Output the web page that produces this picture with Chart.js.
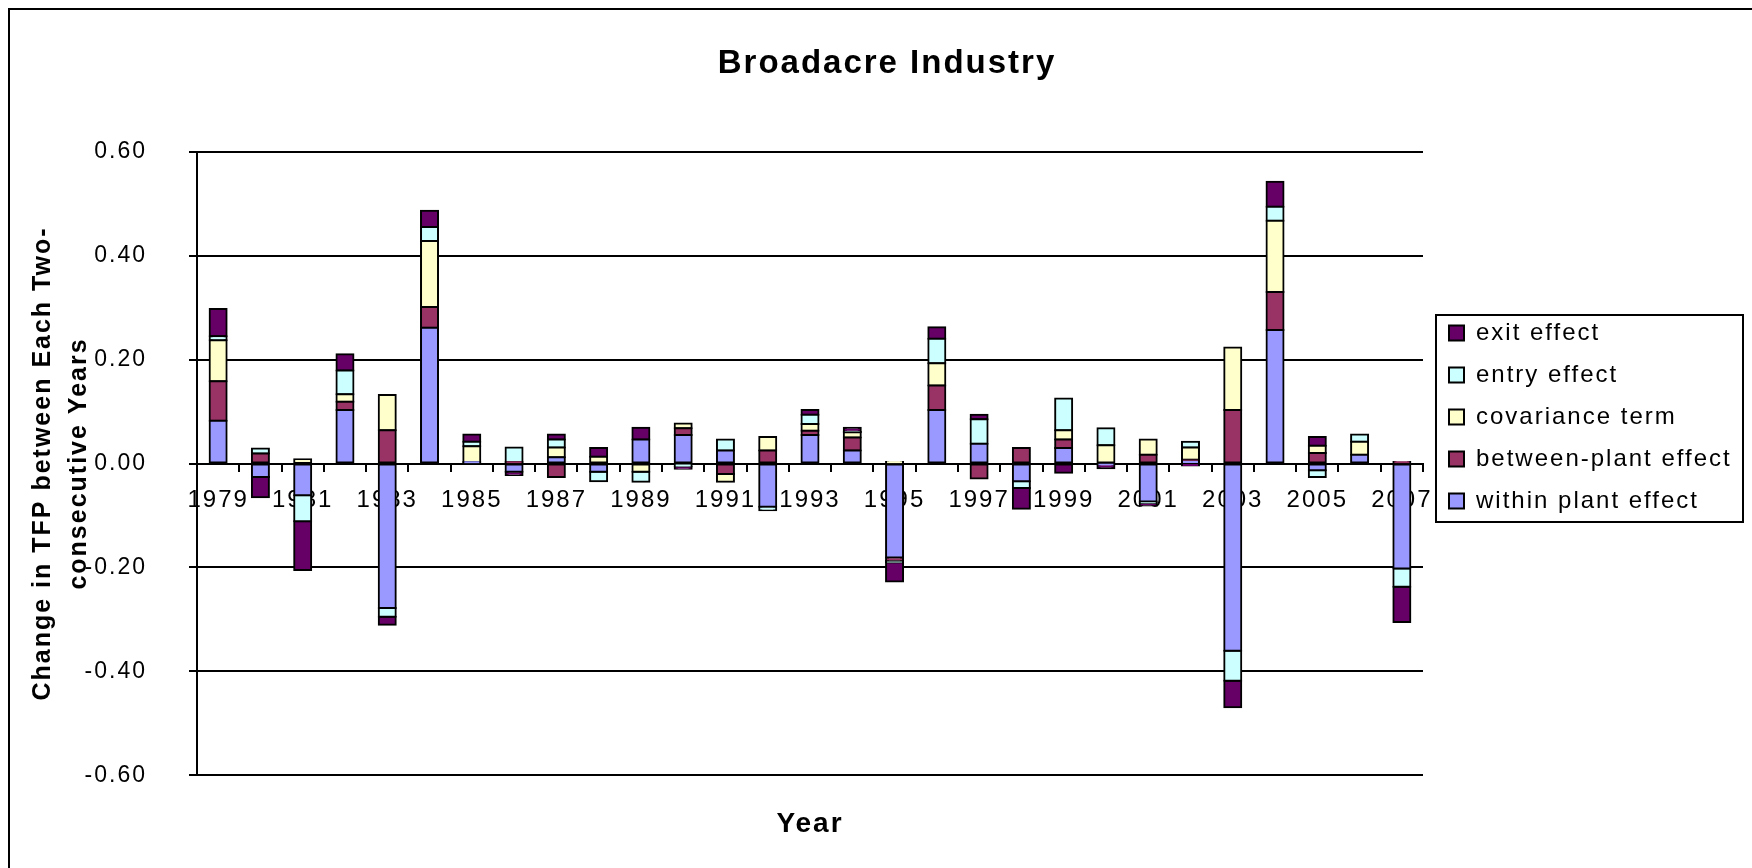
<!DOCTYPE html>
<html>
<head>
<meta charset="utf-8">
<title>Broadacre Industry</title>
<script src="https://cdn.jsdelivr.net/npm/chart.js@4.4.1/dist/chart.umd.min.js"></script>
<style>
    html, body { margin: 0; padding: 0; background: #fff; overflow: hidden; }
    #wrap { position: relative; width: 1752px; height: 868px; }
</style>
</head>
<body>
<div id="wrap"><canvas id="tfpChart"></canvas></div>
<script>
// Decomposition of the year-on-year TFP change, 1979-2007
const years = [1979, 1980, 1981, 1982, 1983, 1984, 1985, 1986, 1987, 1988,
    1989, 1990, 1991, 1992, 1993, 1994, 1995, 1996, 1997, 1998,
    1999, 2000, 2001, 2002, 2003, 2004, 2005, 2006, 2007];

const withinPlant = [0.082, -0.026, -0.061, 0.103, -0.278, 0.261, 0.003, -0.016, 0.012, -0.016,
    0.046, 0.055, 0.025, -0.083, 0.055, 0.025, -0.181, 0.103, 0.038, -0.034,
    0.030, -0.002, -0.073, 0.004, -0.360, 0.257, -0.013, 0.017, -0.202];

const betweenPlant = [0.076, 0.019, null, 0.016, 0.064, 0.040, null, 0.003, -0.026, null,
    null, 0.013, -0.020, 0.025, 0.008, 0.025, -0.006, 0.047, -0.029, 0.030,
    0.016, null, 0.017, 0.003, 0.103, 0.073, 0.020, null, 0.003];

const covarianceTerm = [0.079, null, 0.008, 0.014, 0.068, 0.127, 0.030, null, 0.019, 0.013,
    -0.016, 0.009, -0.015, 0.026, 0.013, 0.010, 0.003, 0.043, null, null,
    0.018, 0.035, 0.029, 0.024, 0.120, 0.137, 0.014, 0.025, null];

const entryEffect = [0.008, 0.010, -0.050, 0.046, -0.017, 0.027, 0.009, 0.028, 0.015, -0.018,
    -0.019, -0.006, 0.021, -0.007, 0.018, 0.001, -0.003, 0.047, 0.047, -0.013,
    0.061, 0.033, -0.003, 0.011, -0.058, 0.027, -0.013, 0.014, -0.035];

const exitEffect = [0.052, -0.039, -0.094, 0.031, -0.015, 0.031, 0.014, -0.006, 0.010, 0.017,
    0.023, -0.004, null, null, 0.009, 0.008, -0.037, 0.022, 0.009, -0.040,
    -0.018, -0.007, -0.005, -0.004, -0.051, 0.048, 0.017, null, -0.068];

const yMin = -0.6;
const yMax = 0.6;
const yStep = 0.2;

const FONT = "'Liberation Sans', Arial, sans-serif";
const PAD_LEFT = 12;
const PLOT_LEFT = 197;
const PLOT_RIGHT = 1423;
const LEGEND_LEFT = 1431;
const LEGEND_TOP = 303;
const TITLE_CX = 887;

// old spreadsheet charts render their text a little loose
const looseText = {
    id: 'looseText',
    beforeUpdate(chart) { chart.ctx.letterSpacing = '2px'; },
    beforeDraw(chart) { chart.ctx.letterSpacing = '2px'; }
};

// outer chart frame (only the left and top edges fall inside the canvas)
const chartFrame = {
    id: 'chartFrame',
    beforeDraw(chart) {
        const ctx = chart.ctx;
        ctx.save();
        ctx.strokeStyle = '#000';
        ctx.lineWidth = 2;
        ctx.strokeRect(9, 9, chart.width + 20, chart.height + 20);
        ctx.restore();
    }
};

// move the title and legend blocks, then box the legend in
const placeBlocks = {
    id: 'placeBlocks',
    afterLayout(chart) {
        const legend = chart.legend;
        legend.left = LEGEND_LEFT;
        legend.right = LEGEND_LEFT + legend.width;
        legend.top = LEGEND_TOP;
        legend.bottom = LEGEND_TOP + legend.height;

        const t = chart.titleBlock;
        const w = t.right - t.left;
        t.left = TITLE_CX - w / 2;
        t.right = t.left + w;
    },
    afterDraw(chart) {
        const hb = chart.legend.legendHitBoxes;
        if (!hb || !hb.length) return;
        const last = hb[hb.length - 1];
        const x0 = hb[0].left - 13;
        const y0 = hb[0].top - 6;
        const x1 = chart.width - 9;
        const y1 = last.top + last.height + 9;
        const ctx = chart.ctx;
        ctx.save();
        ctx.strokeStyle = '#000';
        ctx.lineWidth = 2;
        ctx.strokeRect(x0, y0, x1 - x0, y1 - y0);
        ctx.restore();
    }
};

const options = {
    responsive: true,
    maintainAspectRatio: false,
    animation: false,
    events: [],
    layout: { padding: { top: 12, left: PAD_LEFT, right: 40, bottom: 0 } },
    datasets: { bar: { barThickness: 17 } },
    elements: {
        bar: { borderColor: '#000', borderWidth: 2, borderSkipped: false, inflateAmount: 1 }
    },
    plugins: {
        title: {
            display: true,
            text: 'Broadacre Industry',
            color: '#000',
            font: { family: FONT, size: 33, weight: 'bold' },
            padding: { top: 32, bottom: 68 }
        },
        subtitle: {
            display: true,
            text: 'Year',
            position: 'bottom',
            fullSize: false,
            color: '#000',
            font: { family: FONT, size: 28, weight: 'bold' },
            padding: { top: 32, bottom: 27 }
        },
        legend: {
            position: 'right',
            align: 'start',
            reverse: true,
            labels: {
                boxWidth: 15,
                boxHeight: 15,
                padding: 18,
                color: '#000',
                font: { family: FONT, size: 24 }
            }
        },
        tooltip: { enabled: false }
    },
    scales: {
        x: {
            stacked: true,
            position: { y: 0 },
            grid: { offset: true, drawOnChartArea: false, tickLength: 7, color: '#000', lineWidth: 2 },
            border: { color: '#000', width: 2 },
            ticks: {
                autoSkip: false,
                maxRotation: 0,
                padding: 15,
                color: '#000',
                font: { family: FONT, size: 24 },
                callback: (v, i) => i % 2 === 0 ? String(years[i]) : ''
            }
        },
        y: {
            stacked: true,
            min: yMin,
            max: yMax,
            afterFit(scale) { scale.width = PLOT_LEFT - PAD_LEFT; },
            grid: { color: '#000', lineWidth: 2, tickLength: 8 },
            border: { color: '#000', width: 2 },
            ticks: {
                stepSize: yStep,
                padding: 42,
                color: '#000',
                font: { family: FONT, size: 23 },
                callback: v => v.toFixed(2)
            },
            title: {
                display: true,
                text: ['Change in TFP between Each Two-', 'consecutive Years'],
                color: '#000',
                font: { family: FONT, size: 25, weight: 'bold', lineHeight: 1.44 },
                padding: { top: 13, bottom: 0 }
            }
        }
    }
};

const chart = new Chart(document.getElementById('tfpChart'), {
    type: 'bar',
    data: {
        labels: years,
        datasets: [
            { label: 'within plant effect', data: withinPlant, backgroundColor: '#9999FF' },
            { label: 'between-plant effect', data: betweenPlant, backgroundColor: '#993366' },
            { label: 'covariance term', data: covarianceTerm, backgroundColor: '#FFFFCC' },
            { label: 'entry effect', data: entryEffect, backgroundColor: '#CCFFFF' },
            { label: 'exit effect', data: exitEffect, backgroundColor: '#660066' }
        ]
    },
    options: options,
    plugins: [looseText, chartFrame, placeBlocks]
});

// leave just enough room on the right for the legend
chart.config.options.layout.padding.right = chart.width - PLOT_RIGHT - chart.legend.width;
chart.update();
</script>
</body>
</html>
